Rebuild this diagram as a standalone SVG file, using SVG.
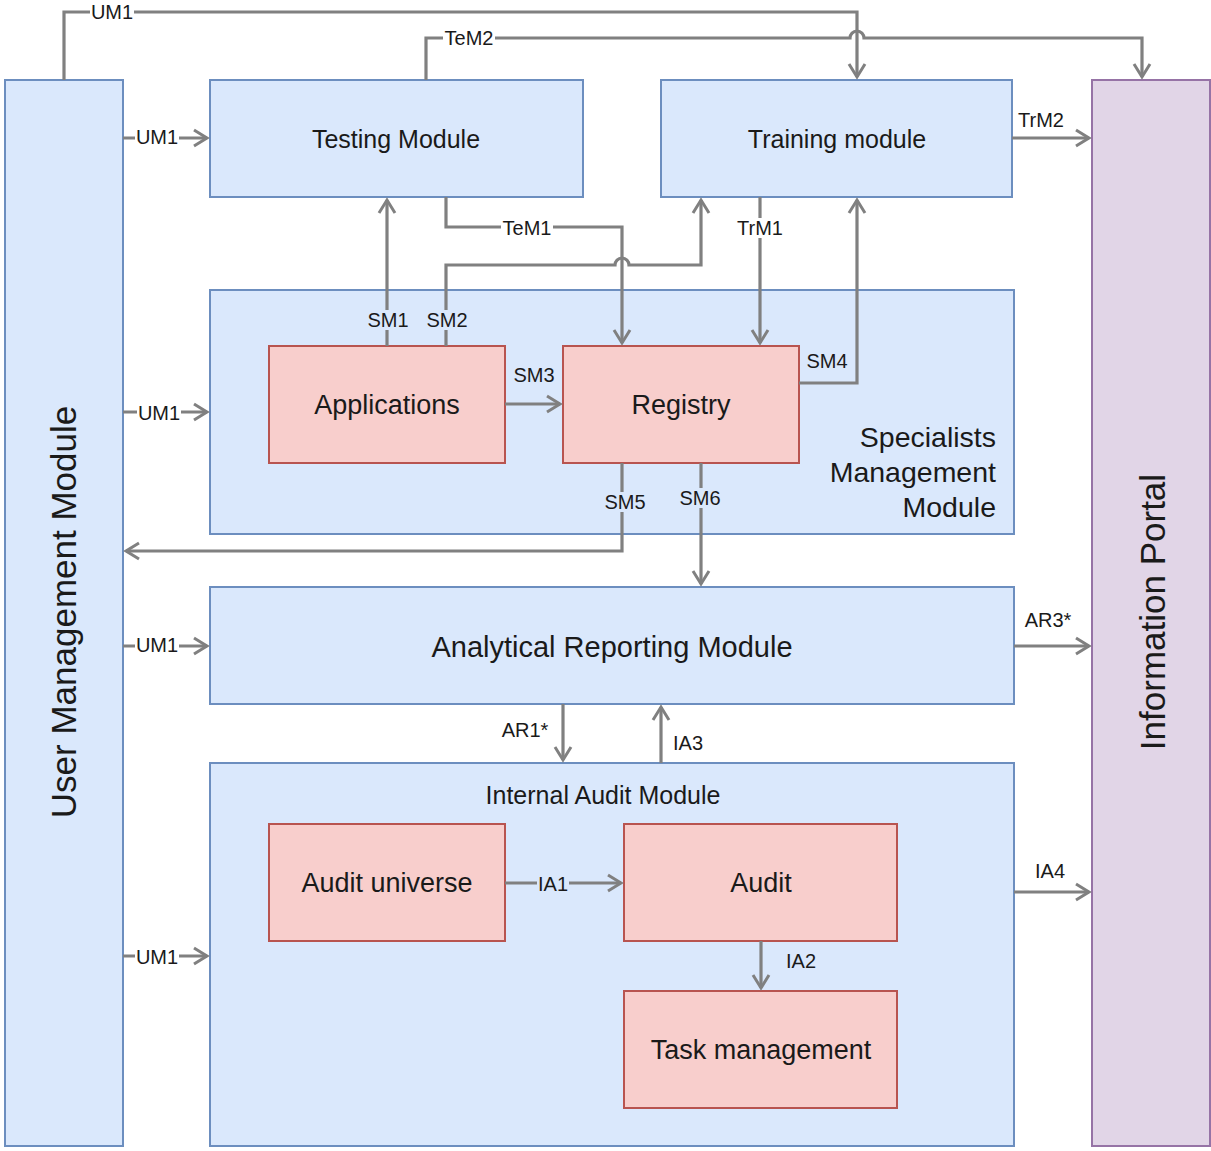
<svg xmlns="http://www.w3.org/2000/svg" width="1211" height="1151" viewBox="0 0 1211 1151">
  <defs>
    <marker id="arrow" markerUnits="userSpaceOnUse" markerWidth="24" markerHeight="24" viewBox="-18 -12 24 24" refX="0" refY="0" orient="auto">
      <path d="M-13,-8 L0,0 L-13,8" fill="none" stroke="#808080" stroke-width="3" stroke-linejoin="miter"/>
    </marker>
  </defs>
  <style>
    text { font-family: "Liberation Sans", Arial, sans-serif; fill: #1a1a1a; }
    .blue { fill: #dae8fc; stroke: #6c8ebf; stroke-width: 2; }
    .pink { fill: #f8cecc; stroke: #b85450; stroke-width: 2; }
    .purple { fill: #e1d5e7; stroke: #9673a6; stroke-width: 2; }
    .title { text-anchor: middle; dominant-baseline: central; }
    .edge { fill: none; stroke: #808080; stroke-width: 3.2; }
    .arrow { marker-end: url(#arrow); }
    .lbl { font-size: 20px; text-anchor: middle; dominant-baseline: central; }
    .bgw { fill: #ffffff; }
    .bgb { fill: #dae8fc; }
  </style>

  <rect width="1211" height="1151" fill="#ffffff"/>

  <g id="user-management">
    <rect class="blue" x="5" y="80" width="118" height="1066"/>
    <text class="title" font-size="35" transform="translate(63,612) rotate(-90)">User Management Module</text>
  </g>

  <g id="information-portal">
    <rect class="purple" x="1092" y="80" width="118" height="1066"/>
    <text class="title" font-size="35" transform="translate(1152,612) rotate(-90)">Information Portal</text>
  </g>

  <g id="testing-module">
    <rect class="blue" x="210" y="80" width="373" height="117"/>
    <text class="title" font-size="25" x="396" y="139">Testing Module</text>
  </g>

  <g id="training-module">
    <rect class="blue" x="661" y="80" width="351" height="117"/>
    <text class="title" font-size="25" x="837" y="139">Training module</text>
  </g>

  <g id="specialists-management">
    <rect class="blue" x="210" y="290" width="804" height="244"/>
    <text font-size="28.5" text-anchor="end" dominant-baseline="central"><tspan x="996" y="437">Specialists</tspan><tspan x="996" y="472">Management</tspan><tspan x="996" y="507">Module</tspan></text>
  </g>

  <g id="applications">
    <rect class="pink" x="269" y="346" width="236" height="117"/>
    <text class="title" font-size="27" x="387" y="405">Applications</text>
  </g>

  <g id="registry">
    <rect class="pink" x="563" y="346" width="236" height="117"/>
    <text class="title" font-size="27" x="681" y="405">Registry</text>
  </g>

  <g id="analytical-reporting">
    <rect class="blue" x="210" y="587" width="804" height="117"/>
    <text class="title" font-size="29" x="612" y="647">Analytical Reporting Module</text>
  </g>

  <g id="internal-audit">
    <rect class="blue" x="210" y="763" width="804" height="383"/>
    <text class="title" font-size="25" x="603" y="795">Internal Audit Module</text>
  </g>

  <g id="audit-universe">
    <rect class="pink" x="269" y="824" width="236" height="117"/>
    <text class="title" font-size="27" x="387" y="883">Audit universe</text>
  </g>

  <g id="audit">
    <rect class="pink" x="624" y="824" width="273" height="117"/>
    <text class="title" font-size="27" x="761" y="883">Audit</text>
  </g>

  <g id="task-management">
    <rect class="pink" x="624" y="991" width="273" height="117"/>
    <text class="title" font-size="27" x="761" y="1050">Task management</text>
  </g>

  <g id="connectors">
    <!-- UM1 over the top to the training module -->
    <path class="edge arrow" d="M64,80 L64,12 L857,12 L857,77"/>
    <!-- TeM2 to the portal, hopping over UM1 -->
    <path class="edge arrow" d="M426,80 L426,38 L850,38 A7,7 0 0 1 864,38 L1142,38 L1142,77"/>
    <!-- UM1 into each module -->
    <path class="edge arrow" d="M123,138 L207,138"/>
    <path class="edge arrow" d="M123,412 L207,412"/>
    <path class="edge arrow" d="M123,646 L207,646"/>
    <path class="edge arrow" d="M123,956 L207,956"/>
    <!-- TrM2 -->
    <path class="edge arrow" d="M1012,138 L1089,138"/>
    <!-- SM1 -->
    <path class="edge arrow" d="M387,346 L387,200"/>
    <!-- SM2, hopping over TeM1 -->
    <path class="edge arrow" d="M446,346 L446,265 L615,265 A7,7 0 0 1 629,265 L701,265 L701,200"/>
    <!-- TeM1 -->
    <path class="edge arrow" d="M446,197 L446,227 L622,227 L622,343"/>
    <!-- TrM1 -->
    <path class="edge arrow" d="M760,197 L760,343"/>
    <!-- SM3 -->
    <path class="edge arrow" d="M505,404 L560,404"/>
    <!-- SM4 -->
    <path class="edge arrow" d="M799,383 L857,383 L857,200"/>
    <!-- SM5 back to user management -->
    <path class="edge arrow" d="M622,463 L622,551 L126,551"/>
    <!-- SM6 -->
    <path class="edge arrow" d="M701,463 L701,584"/>
    <!-- AR3* -->
    <path class="edge arrow" d="M1014,646 L1089,646"/>
    <!-- AR1* -->
    <path class="edge arrow" d="M563,704 L563,760"/>
    <!-- IA3 -->
    <path class="edge arrow" d="M661,763 L661,707"/>
    <!-- IA1 -->
    <path class="edge arrow" d="M505,883 L621,883"/>
    <!-- IA2 -->
    <path class="edge arrow" d="M761,941 L761,988"/>
    <!-- IA4 -->
    <path class="edge arrow" d="M1014,892 L1089,892"/>

    <!-- label backgrounds where labels sit on lines -->
    <rect class="bgw" x="90" y="2" width="44" height="20"/>
    <rect class="bgw" x="443" y="28" width="52" height="20"/>
    <rect class="bgw" x="135" y="127" width="44" height="20"/>
    <rect class="bgw" x="137" y="403" width="44" height="20"/>
    <rect class="bgw" x="135" y="635" width="44" height="20"/>
    <rect class="bgw" x="135" y="947" width="44" height="20"/>
    <rect class="bgw" x="501" y="218" width="52" height="20"/>
    <rect class="bgw" x="736" y="218" width="48" height="20"/>
    <rect class="bgb" x="366" y="310" width="44" height="20"/>
    <rect class="bgb" x="425" y="310" width="44" height="20"/>
    <rect class="bgb" x="603" y="492" width="44" height="20"/>
    <rect class="bgb" x="678" y="488" width="44" height="20"/>
    <rect class="bgb" x="537" y="874" width="32" height="20"/>

    <text class="lbl" x="112" y="12">UM1</text>
    <text class="lbl" x="469" y="38">TeM2</text>
    <text class="lbl" x="157" y="137">UM1</text>
    <text class="lbl" x="159" y="413">UM1</text>
    <text class="lbl" x="157" y="645">UM1</text>
    <text class="lbl" x="157" y="957">UM1</text>
    <text class="lbl" x="1041" y="120">TrM2</text>
    <text class="lbl" x="388" y="320">SM1</text>
    <text class="lbl" x="447" y="320">SM2</text>
    <text class="lbl" x="527" y="228">TeM1</text>
    <text class="lbl" x="760" y="228">TrM1</text>
    <text class="lbl" x="534" y="375">SM3</text>
    <text class="lbl" x="827" y="361">SM4</text>
    <text class="lbl" x="625" y="502">SM5</text>
    <text class="lbl" x="700" y="498">SM6</text>
    <text class="lbl" x="1048" y="620">AR3*</text>
    <text class="lbl" x="525" y="730">AR1*</text>
    <text class="lbl" x="688" y="743">IA3</text>
    <text class="lbl" x="553" y="884">IA1</text>
    <text class="lbl" x="801" y="961">IA2</text>
    <text class="lbl" x="1050" y="871">IA4</text>
  </g>
</svg>
